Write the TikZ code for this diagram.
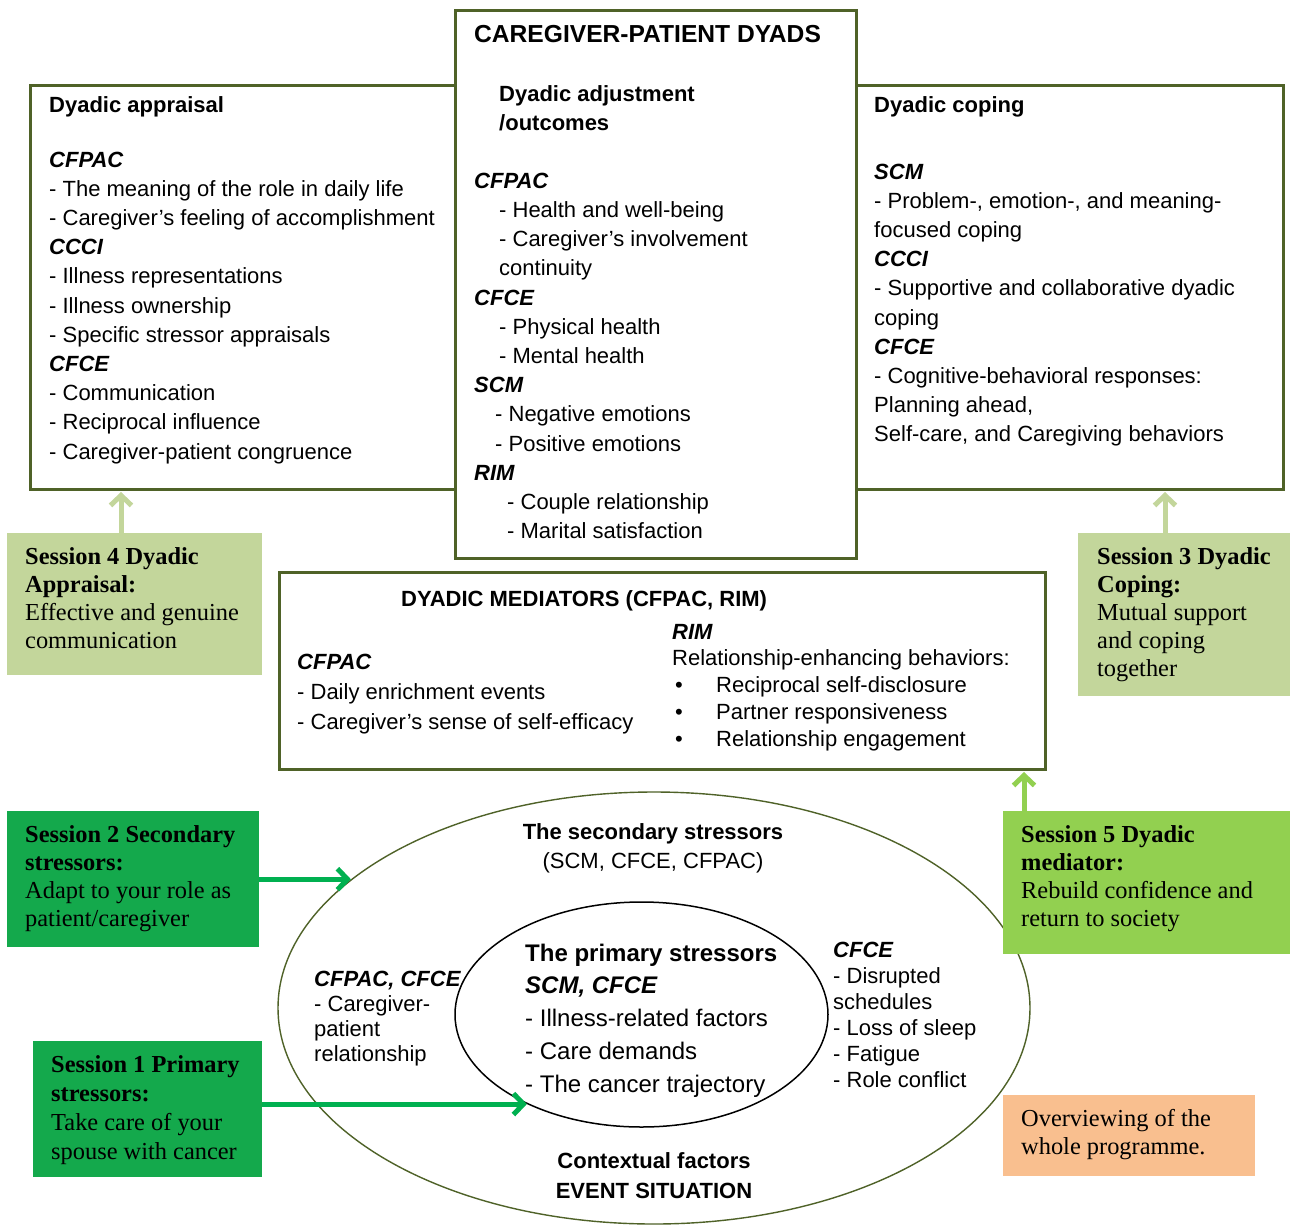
\documentclass[tikz,border=0pt]{standalone}
\usepackage{fontspec}
\setmainfont{Liberation Serif}
\setsansfont{Liberation Sans}
\usetikzlibrary{arrows.meta,shapes.geometric}
\definecolor{frameolive}{HTML}{4F6228}
\definecolor{sessLight}{HTML}{C3D69B}
\definecolor{sessDark}{HTML}{14A94C}
\definecolor{arrDark}{HTML}{00B050}
\definecolor{sessMid}{HTML}{92D050}
\definecolor{sessOrange}{HTML}{F9BF8F}
\newcommand{\sz}[2]{\fontsize{#1}{#2}\selectfont}
\newcommand{\bihd}[1]{\textbf{\textit{#1}}}
\begin{document}
\begin{tikzpicture}[x=1pt,y=-1pt,font=\sffamily,
  frame/.style={draw=frameolive,line width=3pt,fill=white,anchor=north west,inner sep=0pt},
  sbox/.style={draw=none,anchor=north west,inner sep=0pt},
  tb/.style={anchor=base west,inner sep=0pt},
  tc/.style={anchor=base,inner sep=0pt},
  arrw/.style={line width=5pt,-{Straight Barb[length=10pt,width=21pt]}}]
\useasboundingbox (0,0) rectangle (1290,1226);
\fill[white] (0,0) rectangle (1290,1226);

% main frames
\node[frame,minimum width=426pt,minimum height=404pt] (appr) at (29,84) {};
\node[frame,minimum width=427pt,minimum height=404pt] (coping) at (855,84) {};
\node[frame,minimum width=401pt,minimum height=548pt] (dyads) at (454,9) {};
\node[frame,minimum width=766pt,minimum height=197pt] (med) at (278,571) {};

% ellipses
\node[ellipse,draw=frameolive,line width=1.4pt,minimum width=752pt,minimum height=432pt,inner sep=0pt] (outer) at (654,1008) {};
\node[ellipse,draw=black,line width=1.5pt,minimum width=373pt,minimum height=225pt,inner sep=0pt] (inner) at (641.5,1014.5) {};

% session boxes
\node[sbox,fill=sessLight,minimum width=255pt,minimum height=142pt] (s4box) at (7,533) {};
\node[sbox,fill=sessLight,minimum width=212pt,minimum height=163pt] (s3box) at (1078,533) {};
\node[sbox,fill=sessDark,minimum width=252pt,minimum height=136pt] (s2box) at (7,811) {};
\node[sbox,fill=sessDark,minimum width=229pt,minimum height=136pt] (s1box) at (33,1041) {};
\node[sbox,fill=sessMid,minimum width=287pt,minimum height=143pt] (s5box) at (1003,811) {};
\node[sbox,fill=sessOrange,minimum width=252pt,minimum height=81pt] (ovbox) at (1003,1095) {};

% arrows
\coordinate (a4) at (121,0);
\coordinate (a3) at (1165,0);
\coordinate (a5) at (1024,0);
\coordinate (a1) at (inner.218);
\draw[arrw,draw=sessLight,shorten >=1pt] (s4box.north -| a4) -- (appr.south -| a4);
\draw[arrw,draw=sessLight,shorten >=1pt] (s3box.north -| a3) -- (coping.south -| a3);
\draw[arrw,draw=sessMid,shorten >=1pt] (s5box.north -| a5) -- (med.south -| a5);
\draw[arrw,draw=arrDark] (s2box.east) -- (s2box.east -| outer.157);
\draw[arrw,draw=arrDark] (s1box.east |- a1) -- (a1);

% Dyadic appraisal
\node[tb] (apprtxt) at (49,112) {\parbox[t]{400pt}{\raggedright\sz{22}{29.2}%
\textbf{Dyadic appraisal}\\[25.8pt]
\bihd{CFPAC}\\
- The meaning of the role in daily life\\
- Caregiver’s feeling of accomplishment\\
\bihd{CCCI}\\
- Illness representations\\
- Illness ownership\\
- Specific stressor appraisals\\
\bihd{CFCE}\\
- Communication\\
- Reciprocal influence\\
- Caregiver-patient congruence}};

% Dyads
\node[tb] (dyadtitle) at (474,42) {\sz{24.6}{28}\bfseries CAREGIVER-PATIENT DYADS};
\node[tb] (dyadtxt) at (474,101) {\parbox[t]{375pt}{\raggedright\sz{22}{29.2}%
\hspace*{25pt}\textbf{Dyadic adjustment}\\
\hspace*{25pt}\textbf{/outcomes}\\[28.8pt]
\bihd{CFPAC}\\
\hspace*{25pt}- Health and well-being\\
\hspace*{25pt}- Caregiver’s involvement\\
\hspace*{25pt}continuity\\
\bihd{CFCE}\\
\hspace*{25pt}- Physical health\\
\hspace*{25pt}- Mental health\\
\bihd{SCM}\\
\hspace*{21pt}- Negative emotions\\
\hspace*{21pt}- Positive emotions\\
\bihd{RIM}\\
\hspace*{33pt}- Couple relationship\\
\hspace*{33pt}- Marital satisfaction}};

% Dyadic coping
\node[tb] (copetxt) at (874,112) {\parbox[t]{400pt}{\raggedright\sz{22}{29.2}%
\textbf{Dyadic coping}\\[37.8pt]
\bihd{SCM}\\
- Problem-, emotion-, and meaning-\\
focused coping\\
\bihd{CCCI}\\
- Supportive and collaborative dyadic\\
coping\\
\bihd{CFCE}\\
- Cognitive-behavioral responses:\\
Planning ahead,\\
Self-care, and Caregiving behaviors}};

% Mediators
\node[tb] (medtitle) at (401,606) {\sz{22}{26}\bfseries DYADIC MEDIATORS (CFPAC, RIM)};
\node[tb] (medleft) at (297,669) {\parbox[t]{360pt}{\raggedright\sz{22}{30}%
\bihd{CFPAC}\\
- Daily enrichment events\\
- Caregiver’s sense of self-efficacy}};
\node[tb] (medright) at (672,639) {\parbox[t]{360pt}{\raggedright\sz{22}{26.8}%
\bihd{RIM}\\
Relationship-enhancing behaviors:\\
\makebox[44pt][l]{\hspace*{3pt}•}Reciprocal self-disclosure\\
\makebox[44pt][l]{\hspace*{3pt}•}Partner responsiveness\\
\makebox[44pt][l]{\hspace*{3pt}•}Relationship engagement}};

% ellipse texts
\node[tc] (sectxt) at (653,839) {\parbox[t]{320pt}{\centering\sz{22}{29}%
\textbf{The secondary stressors}\\
(SCM, CFCE, CFPAC)}};
\node[tb] (primtxt) at (525,961) {\parbox[t]{290pt}{\raggedright\sz{24}{32.8}%
\textbf{The primary stressors}\\
\bihd{SCM, CFCE}\\
- Illness-related factors\\
- Care demands\\
- The cancer trajectory}};
\node[tb] (lefttxt) at (314,986) {\parbox[t]{160pt}{\raggedright\sz{22}{25}%
\bihd{CFPAC, CFCE}\\
- Caregiver-\\
patient\\
relationship}};
\node[tb] (righttxt) at (833,957) {\parbox[t]{170pt}{\raggedright\sz{22}{26}%
\bihd{CFCE}\\
- Disrupted\\
schedules\\
- Loss of sleep\\
- Fatigue\\
- Role conflict}};
\node[tc] (ctxtxt) at (654,1168) {\parbox[t]{300pt}{\centering\sz{22}{30}\bfseries
Contextual factors\\
EVENT SITUATION}};

% session texts
\node[tb] (s4txt) at (25,564) {\parbox[t]{235pt}{\raggedright\rmfamily\sz{24.4}{28}%
\textbf{Session 4 Dyadic}\\
\textbf{Appraisal:}\\
Effective and genuine\\
communication}};
\node[tb] (s3txt) at (1097,564) {\parbox[t]{190pt}{\raggedright\rmfamily\sz{24.4}{28.2}%
\textbf{Session 3 Dyadic}\\
\textbf{Coping:}\\
Mutual support\\
and coping\\
together}};
\node[tb] (s2txt) at (25,842) {\parbox[t]{232pt}{\raggedright\rmfamily\sz{24.4}{28}%
\textbf{Session 2 Secondary}\\
\textbf{stressors:}\\
Adapt to your role as\\
patient/caregiver}};
\node[tb] (s1txt) at (51,1072) {\parbox[t]{210pt}{\raggedright\rmfamily\sz{24.4}{29}%
\textbf{Session 1 Primary}\\
\textbf{stressors:}\\
Take care of your\\
spouse with cancer}};
\node[tb] (s5txt) at (1021,842) {\parbox[t]{265pt}{\raggedright\rmfamily\sz{24.4}{28}%
\textbf{Session 5 Dyadic}\\
\textbf{mediator:}\\
Rebuild confidence and\\
return to society}};
\node[tb] (ovtxt) at (1021,1126) {\parbox[t]{230pt}{\raggedright\rmfamily\sz{24.4}{28}%
Overviewing of the\\
whole programme.}};
\end{tikzpicture}
\end{document}
